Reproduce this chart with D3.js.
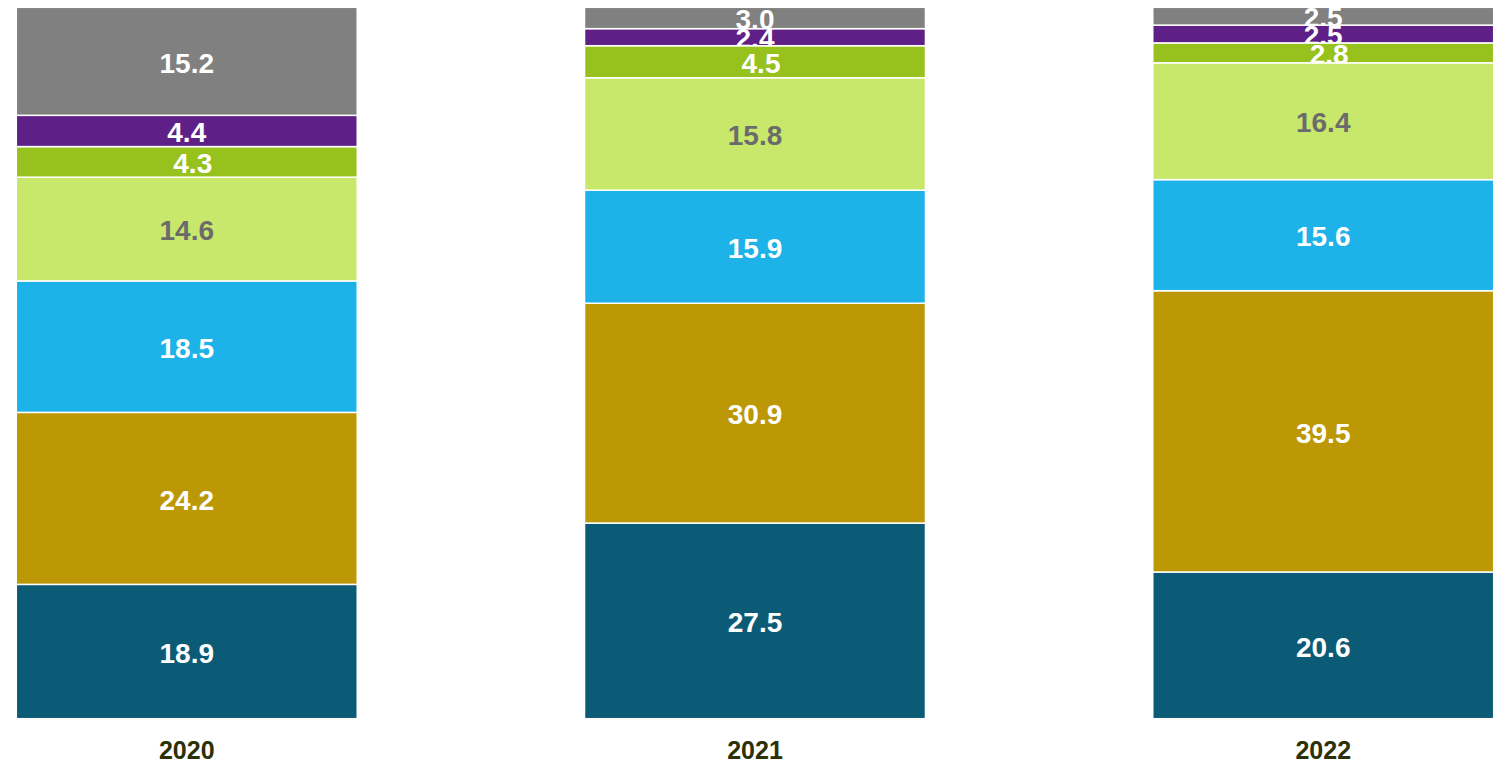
<!DOCTYPE html>
<html>
<head>
<meta charset="utf-8">
<script src="https://cdn.jsdelivr.net/npm/d3@7"></script>
<style>
  html, body { margin: 0; padding: 0; background: #fff; }
  svg { display: block; }
</style>
</head>
<body>
<svg id="chart" width="1501" height="764"></svg>
<script>
// ---- data ----
const years = ["2020", "2021", "2022"];
const seriesKeys = ["s1", "s2", "s3", "s4", "s5", "s6", "s7"]; // bottom → top
const s1 = [18.9, 27.5, 20.6];
const s2 = [24.2, 30.9, 39.5];
const s3 = [18.5, 15.9, 15.6];
const s4 = [14.6, 15.8, 16.4];
const s5 = [4.3, 4.5, 2.8];
const s6 = [4.4, 2.4, 2.5];
const s7 = [15.2, 3.0, 2.5];
const seriesValues = [s1, s2, s3, s4, s5, s6, s7];

// ---- style ----
const colors = ["#0b5b76", "#bc9806", "#1db2e8", "#c8e86b", "#97c11c", "#5e1f87", "#808080"];
const labelColors = ["#fff", "#fff", "#fff", "#6b6b6b", "#fff", "#fff", "#fff"];
const labelDx = [0, 0, 0, 0, 6, 0, 0];

const table = years.map((y, i) => {
  const row = { year: y };
  seriesKeys.forEach((k, j) => row[k] = seriesValues[j][i]);
  return row;
});

const stacked = d3.stack().keys(seriesKeys).offset(d3.stackOffsetExpand)(table);

const svg = d3.select("#chart");
const x = d3.scaleBand().domain(years).range([16.3, 1493.7]).paddingInner(0.4).paddingOuter(0);
const y = d3.scaleLinear().domain([0, 1]).range([718.7, 7.3]);

const defs = svg.append("defs");
const g = svg.append("g");

stacked.forEach((layer, si) => {
  layer.forEach((d, bi) => {
    const x0 = x(d.data.year), w = x.bandwidth();
    const y0 = y(d[1]), h = y(d[0]) - y(d[1]);
    const id = `clip-${si}-${bi}`;
    defs.append("clipPath").attr("id", id)
      .append("rect").attr("x", x0).attr("y", y0).attr("width", w).attr("height", h);
    g.append("rect")
      .attr("x", x0).attr("y", y0).attr("width", w).attr("height", h)
      .attr("fill", colors[si])
      .attr("stroke", "#fff").attr("stroke-width", 1.5);
    g.append("text")
      .attr("clip-path", `url(#${id})`)
      .attr("x", x0 + w / 2 + labelDx[si])
      .attr("y", y0 + h / 2)
      .attr("dy", "0.4em")
      .attr("text-anchor", "middle")
      .attr("font-family", "Liberation Sans, Arial, sans-serif")
      .attr("font-weight", "bold")
      .attr("font-size", 28)
      .attr("fill", labelColors[si])
      .text(d3.format(".1f")(seriesValues[si][bi]));
  });
});

const xAxis = svg.append("g").attr("transform", "translate(0,718.7)")
  .call(d3.axisBottom(x).tickSize(0).tickPadding(0));
xAxis.select(".domain").remove();
xAxis.selectAll("text")
  .attr("y", 40.3).attr("dy", 0)
  .attr("font-family", "Liberation Sans, Arial, sans-serif")
  .attr("font-weight", "bold")
  .attr("font-size", 25)
  .attr("fill", "#2b3006");
</script>
</body>
</html>
